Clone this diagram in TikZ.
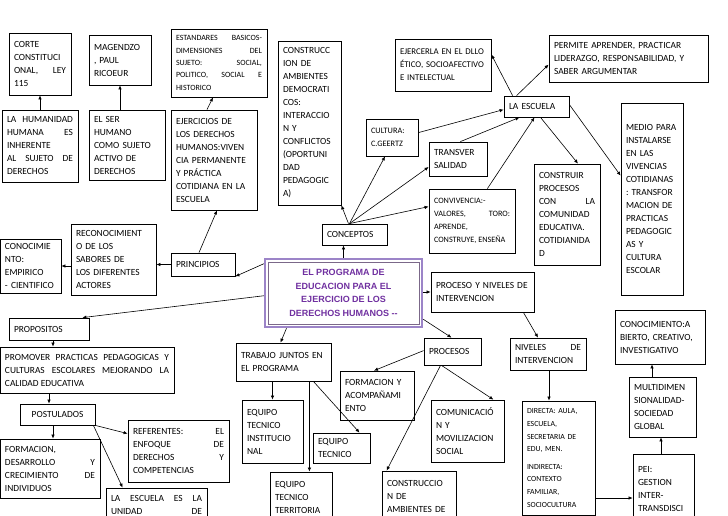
\documentclass[tikz,border=0pt]{standalone}
\usepackage{fontspec}
\setmainfont{Carlito}
\newfontfamily\arialf{Liberation Sans}
\usetikzlibrary{arrows.meta}
\definecolor{purp}{HTML}{7030A0}
\definecolor{lav}{HTML}{9C84C8}
\newcommand\nohy{\lefthyphenmin=64 \righthyphenmin=64 \hyphenpenalty=10000 \tolerance=9999 \emergencystretch=20pt }
\tikzset{
 box/.style={draw, line width=0.8pt, inner xsep=5pt, inner ysep=2pt, align=left,
   font=\fontsize{9.4}{13}\selectfont\nohy},
 jbox/.style={box, align=justify},
 arr/.style={-{Latex[length=4pt,width=3.5pt]}, line width=0.6pt}
}
\newcommand\bx[7][]{\pgfmathsetmacro\tw{#5-10}%
 \node[box,minimum width=#5pt,minimum height=#6pt,text width=\tw pt,#1] (#2) at (#3+#5/2,#4+#6/2) {#7};}
\begin{document}
\begin{tikzpicture}[x=1pt,y=-1pt]
\useasboundingbox (0,0) rectangle (728,515);
\clip (0,0) rectangle (728,515);
\fill[white] (0,0) rectangle (728,515);
\bx[jbox]{corte}{9}{33}{62}{62}{CORTE CONSTITUCI ONAL, LEY 115}
\bx{mag}{89}{35}{62}{50}{MAGENDZO , PAUL RICOEUR}
\bx[jbox,font=\fontsize{8}{12.4}\selectfont\nohy]{est}{171}{29}{96}{68}{ESTANDARES BASICOS-DIMENSIONES DEL SUJETO: SOCIAL, POLITICO, SOCIAL E HISTORICO}
\bx{constr}{278}{41}{63}{164}{CONSTRUCC ION DE AMBIENTES DEMOCRATI COS: INTERACCIO N Y CONFLICTOS (OPORTUNI DAD PEDAGOGIC A)}
\bx[jbox]{hum}{2}{110}{76}{72}{LA HUMANIDAD HUMANA ES INHERENTE AL SUJETO DE DERECHOS}
\bx{ser}{89}{110}{76}{70}{EL SER HUMANO COMO SUJETO ACTIVO DE DERECHOS}
\bx{ejer}{171}{110}{86}{100}{EJERCICIOS DE LOS DERECHOS HUMANOS:VIVEN CIA PERMANENTE Y PRÁCTICA COTIDIANA EN LA ESCUELA}
\bx{recon}{71}{224}{85}{71}{RECONOCIMIENT O DE LOS SABORES DE LOS DIFERENTES ACTORES}
\bx{conoc}{0}{239}{61}{54}{CONOCIMIE NTO: EMPIRICO - CIENTIFICO}
\bx{princ}{171}{253}{64}{23}{PRINCIPIOS}
\bx{conc}{322}{224}{65}{21}{CONCEPTOS}
\bx[font=\fontsize{8.3}{13}\selectfont\nohy]{cult}{366}{119}{52}{37}{CULTURA: C.GEERTZ}
\bx{transv}{429}{142}{58}{34}{TRANSVER SALIDAD}
\bx[jbox,font=\fontsize{8.2}{13}\selectfont\nohy]{conv}{429}{189}{86}{64}{CONVIVENCIA:- VALORES, TORO: APRENDE, CONSTRUYE, ENSEÑA}
\bx[font=\fontsize{8.8}{13}\selectfont\nohy]{ejerc}{395}{39}{96}{52}{EJERCERLA EN EL DLLO ÉTICO, SOCIOAFECTIVO E INTELECTUAL}
\bx{perm}{549}{35}{159}{47}{PERMITE APRENDER, PRACTICAR LIDERAZGO, RESPONSABILIDAD, Y SABER ARGUMENTAR}
\bx{esc}{504}{96}{65}{21}{LA ESCUELA}
\bx[jbox]{constru}{534}{164}{66}{101}{CONSTRUIR PROCESOS CON LA COMUNIDAD EDUCATIVA. COTIDIANIDA D}
\bx{medio}{621}{103}{62}{192}{MEDIO PARA INSTALARSE EN LAS VIVENCIAS COTIDIANAS : TRANSFOR MACION DE PRACTICAS PEDAGOGIC AS Y CULTURA ESCOLAR}
\bx{pniv}{431}{272}{103}{40}{PROCESO Y NIVELES DE INTERVENCION}
\bx{prop}{9}{318}{80}{22}{PROPOSITOS}
\bx[jbox]{prom}{0}{347}{174}{46}{PROMOVER PRACTICAS PEDAGOGICAS Y CULTURAS ESCOLARES MEJORANDO LA CALIDAD EDUCATIVA}
\bx[align=center]{post}{20}{404}{75}{21}{POSTULADOS}
\bx[jbox]{form}{0}{439}{100}{59}{FORMACION, DESARROLLO Y CRECIMIENTO DE INDIVIDUOS}
\bx[jbox]{ref}{128}{420}{101}{62}{REFERENTES: EL ENFOQUE DE DERECHOS Y COMPETENCIAS}
\bx{unid}{106}{488}{101}{34}{LA \hfill ESCUELA \hfill ES \hfill LA\\UNIDAD \hfill DE}
\bx{trab}{236}{343}{95}{38}{TRABAJO JUNTOS EN EL PROGRAMA}
\bx{inst}{242}{400}{61}{63}{EQUIPO TECNICO INSTITUCIO NAL}
\bx{etec}{313}{433}{57}{30}{EQUIPO TECNICO}
\bx{terr}{270}{472}{62}{50}{EQUIPO TECNICO TERRITORIA}
\bx{facomp}{340}{371}{74}{49}{FORMACION Y ACOMPAÑAMI ENTO}
\bx{procs}{424}{338}{57}{27}{PROCESOS}
\bx{comun}{431}{400}{73}{62}{COMUNICACIÓ N Y MOVILIZACION SOCIAL}
\bx{camb}{382}{471}{74}{50}{CONSTRUCCIO N DE AMBIENTES DE}
\bx[jbox]{niv}{510}{338}{76}{32}{NIVELES DE INTERVENCION}
\bx[font=\fontsize{7.8}{12.6}\selectfont\nohy]{dir}{522}{401}{73}{114}{DIRECTA: AULA, ESCUELA, SECRETARIA DE EDU, MEN.\\[5pt]INDIRECTA: CONTEXTO FAMILIAR, SOCIOCULTURA}
\bx{pei}{633}{454}{61}{70}{PEI: GESTION INTER-\\TRANSDISCI}
\bx{multi}{629}{377}{67}{60}{MULTIDIMEN SIONALIDAD-SOCIEDAD GLOBAL}
\bx{cabi}{615}{310}{90}{54}{CONOCIMIENTO:A BIERTO, CREATIVO, INVESTIGATIVO}
% main node
\node[draw=lav, line width=2.5pt, minimum width=157pt, minimum height=68pt,
  align=center, text=purp, font=\arialf\bfseries\fontsize{9}{13.5}\selectfont] (main) at (343.5,293)
  {EL PROGRAMA DE\\EDUCACION PARA EL\\EJERCICIO DE LOS\\DERECHOS HUMANOS --};
\draw[gray!70!purp, line width=0.5pt] ([xshift=4pt,yshift=-4pt]main.north west) rectangle ([xshift=-4pt,yshift=4pt]main.south east);
% arrows
\draw[arr] (hum.north -| corte.south) -- (corte.south);
\draw[arr] (ser.north -| mag.south) -- (mag.south);
\draw[arr] ([xshift=-7pt]ejer.north) -- ([xshift=-6pt]est.south);
\draw[arr] ([xshift=-4pt]princ.north) -- ([xshift=3pt]ejer.south);
\draw[arr] (princ.west) -- (princ.west -| recon.east);
\draw[arr] (recon.west |- conoc.east) -- (conoc.east);
\draw[arr] ([yshift=-6pt]main.north west) -- (princ.south east);
\draw[arr] ([yshift=-38pt]main.north west) -- ([xshift=-7pt]prop.north east);
\draw[arr] (main.north) -- (conc.south -| main.north);
\draw[arr] ([xshift=-6pt]conc.north) -- (constr.south east);
\draw[arr] ([xshift=-5pt]conc.north) -- ([xshift=-7pt]cult.south);
\draw[arr] ([xshift=-5pt]conc.north) -- ([yshift=-8pt]transv.west);
\draw[arr] ([xshift=-5pt]conc.north) -- ([yshift=-18pt]conv.north west);
\draw[arr] ([yshift=-14pt]cult.north east) -- ([yshift=-14pt]esc.north west);
\draw[arr] ([xshift=-27pt]transv.north east) -- ([xshift=-17pt]esc.south);
\draw[arr] ([xshift=-28pt]conv.north east) -- ([xshift=-2pt]esc.south);
\draw[arr] ([xshift=9pt]esc.north west) -- ([yshift=-16pt]ejerc.north east);
\draw[arr] ([xshift=13pt]esc.north west) -- ([yshift=-30pt]perm.north west);
\draw[arr] ([xshift=4pt]esc.south) -- ([xshift=11pt]constru.north);
\draw[arr] ([yshift=-9pt]esc.north east) -- ([yshift=-73pt]medio.north west);
\draw[arr] (main.east |- pniv.west) -- (pniv.west);
\draw[arr] ([yshift=9pt]main.south east) -- ([xshift=-1pt]procs.north);
\draw[arr] ([xshift=-57pt]main.south) -- ([xshift=-3pt]trab.north);
\draw[arr] (prop.south -| 53,0) -- (prom.north -| 53,0);
\draw[arr] (prom.south -| 49,0) -- (post.north -| 49,0);
\draw[arr] (post.south -| 53,0) -- (form.north -| 53,0);
\draw[arr] (post.south east) -- ([yshift=-14pt]ref.north west);
\draw[arr] ([xshift=-2pt]post.south east) -- ([xshift=17pt]unid.north west);
\draw[arr] (trab.south -| inst.north) -- (inst.north);
\draw[arr] ([xshift=-22pt]trab.south east) -- ([xshift=-22pt]trab.south east |- terr.north);
\draw[arr] ([xshift=-18pt]trab.south east) -- ([xshift=18pt]etec.north);
\draw[arr] ([yshift=-13pt]procs.north west) -- ([xshift=-3pt]facomp.north);
\draw[arr] ([xshift=-11pt]procs.south) -- ([xshift=-11pt]comun.north east |- comun.north);
\draw[arr] ([xshift=-12pt]procs.south) -- ([xshift=5pt]camb.north west);
\draw[arr] ([xshift=-11pt]pniv.south east) -- ([xshift=-10pt]niv.north);
\draw[arr] (niv.south -| 549,0) -- (dir.north -| 549,0);
\draw[arr] (dir.east |- 0,498) -- (pei.west |- 0,498);
\draw[arr] (pei.north -| 661,0) -- (multi.south -| 661,0);
\draw[arr] (multi.north -| 652,0) -- (cabi.south -| 652,0);
\end{tikzpicture}
\end{document}
